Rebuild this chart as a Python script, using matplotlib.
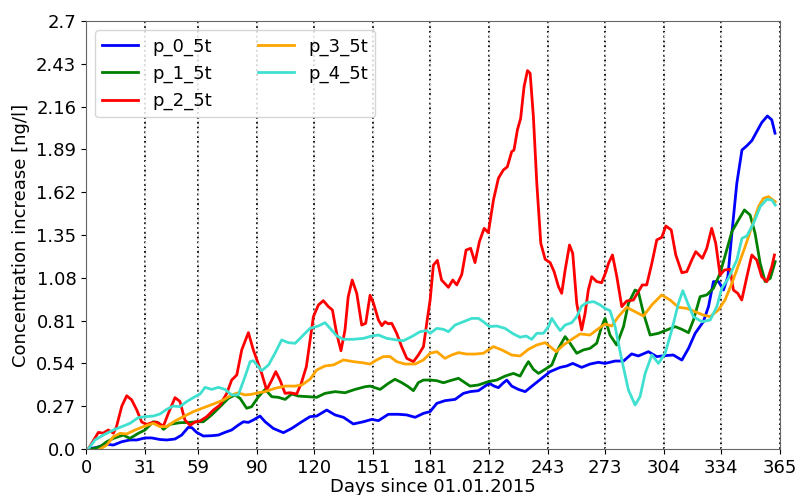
import numpy as np
import matplotlib
matplotlib.use("Agg")
import matplotlib.pyplot as plt

# (day of year, concentration increase in ng/l)
p0_days = [1.2, 5.5, 10.9, 14.4, 18.8, 23.1, 26.7, 31, 34.5, 38.9, 42.4, 46.8, 50.3, 53.8, 55.6, 58.2,
           61.7, 66.1, 69.6, 73.1, 76.6, 80.1, 82.8, 85.4, 88, 91.5, 94.2, 98.5, 103.8, 108.2, 113.5,
           117.8, 121.3, 126.6, 131, 135.4, 140.6, 145.9, 150.3, 153.8, 159, 164.3, 168.7, 173.1,
           177.5, 181, 184.5, 188.8, 194.1, 198.5, 202, 206.4, 209.9, 212.2, 214.6, 216.9, 219.2,
           221.3, 223.9, 227.4, 231, 235.3, 239.7, 244.1, 249.4, 252.9, 256, 260.7, 265.1, 269.5,
           273, 278.3, 282.7, 287, 290.5, 295.8, 300.2, 304.6, 308.9, 313.4, 316.9, 320.4, 324.7,
           327.4, 330, 332.7, 335.3, 337.6, 339.7, 342.3, 345, 347.5, 350.2, 352.8, 355.4, 358.4,
           360.7, 362.4]
p0_vals = [0.0, 0.01, 0.03, 0.025, 0.046, 0.057, 0.057, 0.07, 0.07, 0.06, 0.057, 0.063, 0.088, 0.137,
           0.135, 0.105, 0.082, 0.084, 0.088, 0.105, 0.12, 0.151, 0.172, 0.168, 0.183, 0.208, 0.172,
           0.13, 0.103, 0.13, 0.172, 0.204, 0.208, 0.246, 0.215, 0.20, 0.158, 0.172, 0.187, 0.179,
           0.219, 0.219, 0.215, 0.20, 0.225, 0.236, 0.288, 0.305, 0.313, 0.351, 0.362, 0.368, 0.397,
           0.414, 0.397, 0.387, 0.414, 0.435, 0.397, 0.376, 0.362, 0.404, 0.446, 0.488, 0.515, 0.524,
           0.54, 0.515, 0.536, 0.547, 0.54, 0.555, 0.555, 0.60, 0.587, 0.614, 0.583, 0.589, 0.593,
           0.561, 0.635, 0.73, 0.803, 0.898, 1.056, 1.056, 1.003, 1.087, 1.361, 1.676, 1.886, 1.912,
           1.945, 2.002, 2.059, 2.101, 2.076, 1.992]

p1_days = [3, 7.4, 10.9, 14.4, 19.6, 23.1, 27.5, 31, 35.4, 38, 40.7, 44.2, 49.4, 54.7, 58.2, 61.7,
           66.1, 70.5, 74.9, 78.4, 81, 84.5, 87.1, 90.7, 94.2, 97.7, 101.2, 104.7, 108.2, 111.7, 117,
           121.3, 125.7, 131, 136.2, 141.5, 146.8, 149.4, 154.7, 159, 162.5, 166, 169.5, 172.2, 174.8,
           177.5, 181, 184.5, 188, 191.5, 195.9, 198.5, 202, 206.4, 211.6, 216, 220.4, 224.8, 228.3,
           231, 232.7, 235.3, 238, 241.5, 245, 248.5, 252, 254.6, 258.1, 261.6, 265.1, 268.6, 271.2,
           273, 275.6, 279.1, 282.7, 285.3, 288.8, 290.5, 293.2, 296.7, 301.1, 305.5, 309.9, 313.4,
           316.9, 319.5, 323, 326.5, 330, 333.5, 337, 339.7, 343.2, 346.3, 349.3, 351.9, 354.6, 357.2,
           359.9, 362.5]
p1_vals = [0.0, 0.015, 0.046, 0.067, 0.088, 0.067, 0.099, 0.12, 0.172, 0.166, 0.124, 0.156, 0.166,
           0.168, 0.172, 0.172, 0.215, 0.267, 0.32, 0.341, 0.32, 0.257, 0.267, 0.33, 0.376, 0.33,
           0.326, 0.313, 0.347, 0.334, 0.33, 0.326, 0.351, 0.362, 0.355, 0.376, 0.393, 0.397, 0.376,
           0.414, 0.44, 0.419, 0.393, 0.368, 0.419, 0.435, 0.435, 0.431, 0.418, 0.431, 0.446, 0.425,
           0.397, 0.404, 0.425, 0.435, 0.46, 0.477, 0.46, 0.519, 0.551, 0.503, 0.477, 0.503, 0.53,
           0.635, 0.709, 0.667, 0.604, 0.625, 0.635, 0.667, 0.772, 0.824, 0.719, 0.656, 0.772, 0.919,
           1.003, 0.993, 0.856, 0.719, 0.73, 0.751, 0.772, 0.755, 0.734, 0.814, 0.961, 0.972, 1.014,
           1.108, 1.256, 1.371, 1.445, 1.508, 1.476, 1.361, 1.171, 1.056, 1.077, 1.182]

p2_days = [1.2, 6.5, 9, 11.7, 14.4, 16, 18.8, 21.4, 24, 26.7, 29.3, 32, 34.5, 37, 40.7, 43.3, 46.8,
           49.4, 52, 54.7, 57.3, 60, 63.5, 67, 70.5, 74, 76.6, 79.3, 81.9, 85.4, 88, 92.4, 95, 97.7,
           99.8, 102, 104.7, 107.3, 110.8, 113.2, 115.9, 119.6, 122.2, 124.8, 127.5, 129.6, 131.8,
           134.1, 136.2, 137.9, 140, 142.4, 145, 147.1, 149.4, 151.2, 153.8, 155.6, 157.3, 159, 160.8,
           163.4, 166, 168.7, 172.2, 174.8, 177.5, 179.2, 181, 182.7, 184.8, 187, 190.6, 192.9, 195,
           197.6, 199.9, 202.3, 204.6, 206.9, 209.4, 211.6, 214.3, 216.9, 219.5, 221.6, 223.9, 225.1,
           226.9, 228.6, 230.4, 232.2, 233.6, 235.3, 237.1, 239.2, 241.5, 244.1, 246.2, 248.5, 250.2,
           252, 254.3, 256, 258.1, 260.7, 262.5, 264.2, 266, 268.6, 271.2, 273.5, 274.8, 276.9, 279.2,
           281.8, 284.4, 287.9, 290.5, 292.6, 294.9, 297.6, 300.2, 302.8, 305, 307.8, 310.2, 313.4,
           316, 318.6, 320.7, 324.2, 326.5, 329.1, 331.2, 333.5, 335.8, 338.8, 340.5, 342.8, 344.9,
           347.6, 350.2, 352.8, 355.4, 358.1, 360.7, 362.1]
p2_vals = [0.0, 0.105, 0.10, 0.12, 0.10, 0.14, 0.27, 0.336, 0.31, 0.246, 0.17, 0.155, 0.166, 0.17,
           0.145, 0.225, 0.324, 0.30, 0.183, 0.15, 0.17, 0.177, 0.204, 0.246, 0.278, 0.35, 0.435,
           0.467, 0.625, 0.734, 0.625, 0.477, 0.372, 0.435, 0.488, 0.435, 0.351, 0.355, 0.347, 0.414,
           0.52, 0.835, 0.908, 0.936, 0.898, 0.877, 0.73, 0.62, 0.75, 0.96, 1.066, 0.982, 0.782, 0.793,
           0.97, 0.92, 0.814, 0.778, 0.803, 0.79, 0.793, 0.73, 0.646, 0.572, 0.551, 0.593, 0.646,
           0.793, 0.94, 1.16, 1.19, 1.066, 1.02, 1.066, 1.035, 1.10, 1.255, 1.266, 1.176, 1.308, 1.392,
           1.365, 1.571, 1.708, 1.76, 1.78, 1.876, 1.886, 2.013, 2.086, 2.286, 2.387, 2.37, 2.097,
           1.676, 1.298, 1.197, 1.176, 1.119, 1.024, 0.982, 1.129, 1.287, 1.234, 0.919, 0.751, 0.856,
           1.003, 1.087, 1.056, 1.049, 1.119, 1.171, 1.224, 1.087, 0.898, 0.934, 0.94, 0.993, 1.035,
           1.035, 1.171, 1.319, 1.335, 1.407, 1.382, 1.224, 1.112, 1.119, 1.192, 1.245, 1.203, 1.266,
           1.392, 1.298, 1.098, 1.129, 1.134, 1.003, 0.982, 0.94, 1.087, 1.224, 1.192, 1.087, 1.056,
           1.15, 1.224]

p3_days = [7.4, 10.9, 14.4, 17.9, 21.4, 25.8, 31, 35.4, 38.9, 42.4, 46.8, 51.2, 56.5, 61.7, 67, 72.2,
           76.6, 80.1, 83.6, 87.1, 90.7, 94.2, 99.4, 104.7, 110, 113.5, 117.8, 121.3, 125.7, 130.1,
           135.4, 140.6, 145, 149.4, 152.9, 156.4, 159.9, 163.4, 167.8, 173.1, 177.5, 181, 184.5,
           188.8, 192.3, 195.9, 200.2, 204.6, 209, 214.3, 218.7, 223.9, 228.3, 232.7, 237.1, 241.5,
           244.1, 247.3, 251.1, 255.5, 259.9, 265.1, 268.6, 273, 276.5, 280, 284.4, 288.8, 293.2,
           297.6, 302.8, 307.2, 311.6, 316, 320.4, 324.7, 328.3, 332.6, 336.1, 339.7, 343.2, 346.7,
           350.2, 353.7, 356.3, 359, 362.5]
p3_vals = [0.0, 0.025, 0.078, 0.099, 0.095, 0.12, 0.145, 0.162, 0.141, 0.141, 0.177, 0.204, 0.236,
           0.26, 0.284, 0.309, 0.341, 0.355, 0.341, 0.345, 0.355, 0.362, 0.383, 0.397, 0.397, 0.404,
           0.44, 0.498, 0.524, 0.53, 0.562, 0.551, 0.545, 0.536, 0.562, 0.583, 0.583, 0.551, 0.536,
           0.536, 0.562, 0.604, 0.614, 0.572, 0.593, 0.608, 0.599, 0.599, 0.604, 0.646, 0.625, 0.593,
           0.587, 0.629, 0.656, 0.671, 0.646, 0.614, 0.656, 0.692, 0.726, 0.719, 0.751, 0.789, 0.776,
           0.835, 0.894, 0.866, 0.839, 0.909, 0.972, 0.94, 0.894, 0.887, 0.866, 0.845, 0.835, 0.877,
           0.94, 1.045, 1.161, 1.277, 1.403, 1.529, 1.581, 1.592, 1.56]

p4_days = [1.2, 4.7, 9.1, 14.4, 18.8, 23.1, 27.5, 31, 35.4, 38.9, 42.4, 45.9, 49.4, 52.9, 57.3, 60,
           62.6, 66.1, 69.6, 73.1, 76.6, 80.1, 83.6, 86.3, 88, 92.4, 96, 99.4, 102.9, 106.4, 110,
           113.5, 117.8, 122.2, 125.7, 128.4, 131.9, 135.4, 140.6, 145.9, 150.3, 153.8, 158.2, 163.4,
           166.9, 171.3, 175.7, 179.2, 181, 184.5, 188, 190.6, 194.1, 198.5, 202.9, 206.4, 209, 212.2,
           216, 220.4, 224.8, 228.3, 231.5, 234.4, 237.1, 240.6, 243.2, 245, 247.3, 249.4, 252, 255.5,
           258.1, 260.7, 263.4, 266.9, 270.4, 273, 275.6, 278.3, 281.8, 285.3, 288.8, 291.4, 294.1,
           297.6, 301.1, 304.6, 308.1, 311.6, 313.9, 316.5, 319.5, 323.9, 328.3, 331.8, 334.4, 337.9,
           342.3, 345, 347.6, 351.1, 354.6, 358.1, 360.7, 362.5]
p4_vals = [0.0, 0.057, 0.088, 0.12, 0.141, 0.162, 0.198, 0.204, 0.208, 0.221, 0.25, 0.271, 0.267,
           0.299, 0.33, 0.347, 0.389, 0.376, 0.389, 0.376, 0.341, 0.341, 0.456, 0.551, 0.557, 0.494,
           0.53, 0.604, 0.688, 0.671, 0.667, 0.709, 0.761, 0.776, 0.797, 0.761, 0.713, 0.692, 0.692,
           0.698, 0.713, 0.719, 0.698, 0.688, 0.683, 0.709, 0.74, 0.747, 0.73, 0.761, 0.755, 0.74,
           0.782, 0.803, 0.824, 0.824, 0.803, 0.772, 0.776, 0.761, 0.726, 0.705, 0.713, 0.692, 0.73,
           0.73, 0.772, 0.824, 0.782, 0.747, 0.782, 0.797, 0.835, 0.902, 0.923, 0.93, 0.909, 0.887,
           0.873, 0.772, 0.562, 0.372, 0.278, 0.33, 0.477, 0.593, 0.54, 0.604, 0.751, 0.919, 0.999,
           0.919, 0.835, 0.803, 0.814, 0.898, 1.014, 1.077, 1.192, 1.329, 1.344, 1.424, 1.529, 1.575,
           1.571, 1.539]

series_names = ["p_0_5t", "p_1_5t", "p_2_5t", "p_3_5t", "p_4_5t"]
series_colors = ["blue", "green", "red", "orange", "turquoise"]
month_starts = [0, 31, 59, 90, 120, 151, 181, 212, 243, 273, 304, 334, 365]

fig = plt.figure(figsize=(7.98, 4.95), dpi=100)
ax = fig.add_axes([0.1078, 0.0929, 0.8696, 0.8647])

all_days = [p0_days, p1_days, p2_days, p3_days, p4_days]
all_vals = [p0_vals, p1_vals, p2_vals, p3_vals, p4_vals]
for d, v, name, col in zip(all_days, all_vals, series_names, series_colors):
    ax.plot(d, v, color=col, lw=2, label=name)

# month boundaries
for m in month_starts:
    ax.axvline(m, color="black", ls=":", lw=1.3, zorder=0)
ax.grid(axis="x", ls=":", color="lightgrey", lw=1)

ax.set_xlim(0, 365)
ax.set_ylim(0, 2.7)
ax.set_xticks(month_starts)
yt = np.linspace(0, 2.7, 11)
ax.set_yticks(yt)
ax.set_yticklabels([str(round(t, 2)) for t in yt])
ax.tick_params(labelsize=13)
for s in ax.spines.values():
    s.set_color("#666666")

# label sits right at the lower edge, as in the original figure
ax.set_xlabel("Days since 01.01.2015", fontsize=13, labelpad=1)
ax.set_ylabel("Concentration increase [ng/l]", fontsize=13)
ax.legend(loc="upper left", ncol=2, fontsize=13, handlelength=2.0, columnspacing=2.5)

fig.savefig("out.png", dpi=100)
